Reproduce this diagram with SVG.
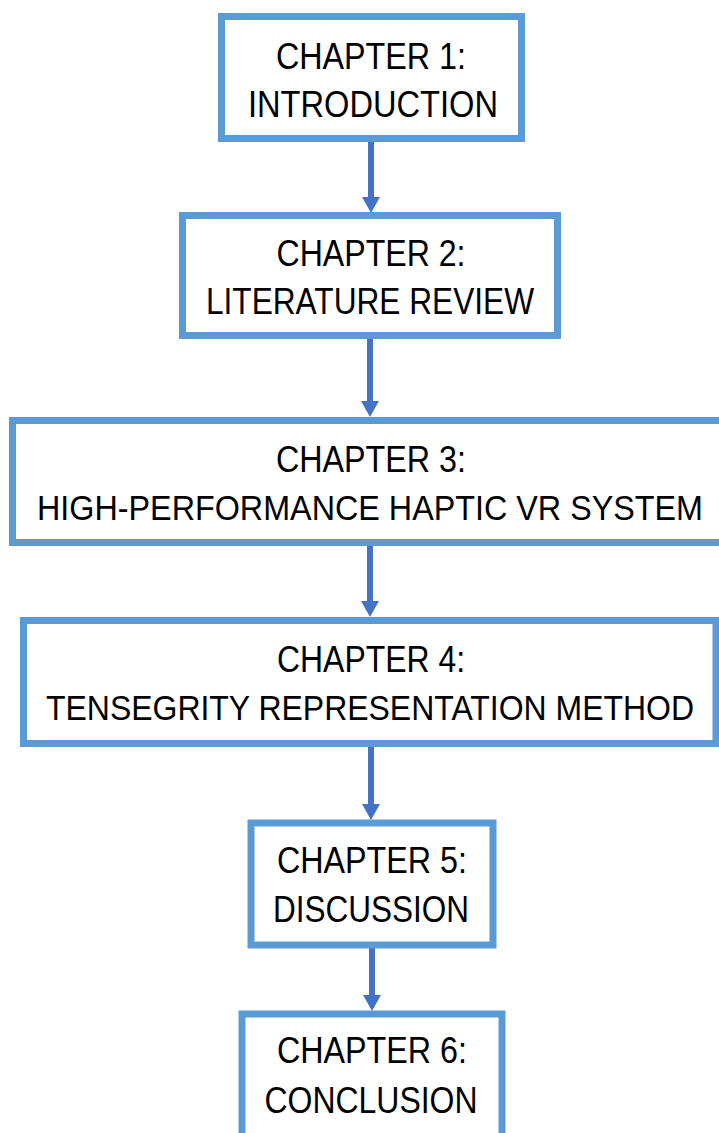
<svg xmlns="http://www.w3.org/2000/svg" width="719" height="1133" viewBox="0 0 719 1133">
<defs>
<marker id="ah" markerUnits="userSpaceOnUse" viewBox="0 0 16 18" markerWidth="16" markerHeight="18" refX="6" refY="9" orient="auto">
<path d="M0,0 L16,9 L0,18 Z" fill="#4472C4"/>
</marker>
<style>
.box{fill:#FFFFFF;stroke:#5B9BD5;stroke-width:7}
.t{font-family:"Liberation Sans",Arial,sans-serif;font-size:36px;fill:#000000;text-anchor:middle}
.c{stroke:#4472C4;stroke-width:6;fill:none;marker-end:url(#ah)}
</style>
</defs>
<rect width="719" height="1133" fill="#FFFFFF"/>
<g id="connectors">
<line class="c" x1="371" y1="142" x2="371" y2="203"/>
<line class="c" x1="370" y1="339" x2="370" y2="407"/>
<line class="c" x1="370" y1="546" x2="370" y2="607"/>
<line class="c" x1="371" y1="747" x2="371" y2="810"/>
<line class="c" x1="372" y1="948" x2="372" y2="1001"/>
</g>
<g id="ch1">
<rect class="box" x="221.5" y="16.5" width="300" height="122"/>
<text class="t" x="371" y="69" textLength="190" lengthAdjust="spacingAndGlyphs">CHAPTER 1:</text>
<text class="t" x="373" y="117" textLength="250" lengthAdjust="spacingAndGlyphs">INTRODUCTION</text>
</g>
<g id="ch2">
<rect class="box" x="182.5" y="215.5" width="375" height="120"/>
<text class="t" x="371" y="266" textLength="189" lengthAdjust="spacingAndGlyphs">CHAPTER 2:</text>
<text class="t" x="370" y="314" textLength="328" lengthAdjust="spacingAndGlyphs">LITERATURE REVIEW</text>
</g>
<g id="ch3">
<rect class="box" x="12.5" y="420.5" width="720" height="122"/>
<text class="t" x="371" y="472" textLength="190" lengthAdjust="spacingAndGlyphs">CHAPTER 3:</text>
<text class="t" transform="translate(370,520) scale(0.9,1)" x="0" y="0" textLength="740" lengthAdjust="spacingAndGlyphs">HIGH-PERFORMANCE HAPTIC VR SYSTEM</text>
</g>
<g id="ch4">
<rect class="box" x="23.5" y="620.5" width="692.5" height="123"/>
<text class="t" x="371" y="672" textLength="188" lengthAdjust="spacingAndGlyphs">CHAPTER 4:</text>
<text class="t" transform="translate(370,720) scale(0.9,1)" x="0" y="0" textLength="720" lengthAdjust="spacingAndGlyphs">TENSEGRITY REPRESENTATION METHOD</text>
</g>
<g id="ch5">
<rect class="box" x="251" y="823" width="242" height="122"/>
<text class="t" x="372" y="873" textLength="190" lengthAdjust="spacingAndGlyphs">CHAPTER 5:</text>
<text class="t" x="371" y="922" textLength="196" lengthAdjust="spacingAndGlyphs">DISCUSSION</text>
</g>
<g id="ch6">
<rect class="box" x="242" y="1014" width="260" height="140"/>
<text class="t" x="372" y="1063" textLength="190" lengthAdjust="spacingAndGlyphs">CHAPTER 6:</text>
<text class="t" x="371" y="1113" textLength="213" lengthAdjust="spacingAndGlyphs">CONCLUSION</text>
</g>
</svg>
